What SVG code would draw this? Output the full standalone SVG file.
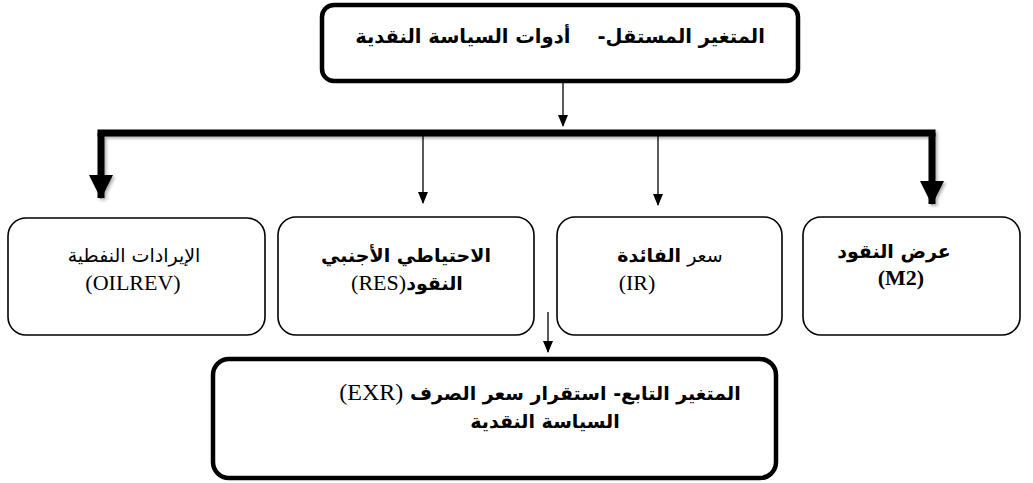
<svg xmlns="http://www.w3.org/2000/svg" width="1033" height="483" viewBox="0 0 1033 483">
<style>
.node-thick{fill:#fff;stroke:#000;stroke-width:4.5}
.node{fill:#fff;stroke:#000;stroke-width:1.6}
.ar{font-family:'DejaVu Sans','Liberation Sans',sans-serif;font-size:19px;fill:#000}
.arb{font-family:'DejaVu Sans','Liberation Sans',sans-serif;font-size:19px;font-weight:bold;fill:#000}
.lat{font-family:'Liberation Serif','Times New Roman',serif;font-size:22px;fill:#000}
.thin{stroke:#000;stroke-width:1.3;fill:none}
.thick{stroke:#000;stroke-width:7;fill:none}
</style>
<defs>
<filter id="sh" x="-20%" y="-20%" width="140%" height="140%"><feDropShadow dx="2" dy="2" stdDeviation="1.5" flood-color="#000" flood-opacity="0.3"/></filter>
<marker id="hThin" markerUnits="userSpaceOnUse" markerWidth="10" markerHeight="12" refX="5" refY="11" orient="0" viewBox="0 0 10 12"><path d="M0,0 L10,0 L5,12 z" fill="#000"/></marker>
<marker id="hThick" markerUnits="userSpaceOnUse" markerWidth="24" markerHeight="24" refX="12" refY="23" orient="0" viewBox="0 0 24 24"><path d="M0,0 L24,0 L12,24 z" fill="#000"/></marker>
</defs>
<g id="connectors">
<line class="thin" x1="563" y1="82" x2="563" y2="126" marker-end="url(#hThin)"/>
<g filter="url(#sh)">
<line class="thick" x1="97.5" y1="133" x2="935.5" y2="133"/>
<line class="thick" x1="101" y1="133" x2="101" y2="198" marker-end="url(#hThick)"/>
<line class="thick" x1="932" y1="133" x2="932" y2="204" marker-end="url(#hThick)"/>
</g>
<line class="thin" x1="423" y1="136" x2="423" y2="203" marker-end="url(#hThin)"/>
<line class="thin" x1="658" y1="136" x2="658" y2="205" marker-end="url(#hThin)"/>
<line class="thin" x1="548" y1="312" x2="548" y2="352" marker-end="url(#hThin)"/>
</g>
<g id="top">
<rect class="node-thick" x="322" y="5" width="476" height="76" rx="12"/>
<text class="arb" x="560" y="43" direction="rtl" text-anchor="middle" style="white-space:pre;font-size:19.5px">المتغير المستقل-    أدوات السياسة النقدية</text>
</g>
<g id="oilrev">
<rect class="node" x="8" y="218" width="257" height="117" rx="18"/>
<text class="ar" x="134" y="262" direction="rtl" text-anchor="middle">الإيرادات النفطية</text>
<text class="lat" x="133" y="290" text-anchor="middle">(OILREV)</text>
</g>
<g id="res">
<rect class="node" x="278" y="217" width="256" height="118" rx="18"/>
<text class="arb" x="406" y="262" direction="rtl" text-anchor="middle">الاحتياطي الأجنبي</text>
<text x="407" y="290" direction="rtl" text-anchor="middle"><tspan class="arb">النقود</tspan><tspan class="lat">(RES)</tspan></text>
</g>
<g id="ir">
<rect class="node" x="557" y="217" width="225" height="118" rx="18"/>
<text x="670" y="262" direction="rtl" text-anchor="middle"><tspan class="ar">سعر </tspan><tspan class="arb">الفائدة</tspan></text>
<text class="lat" x="637" y="290" text-anchor="middle">(IR)</text>
</g>
<g id="m2">
<rect class="node" x="803" y="217" width="217" height="118" rx="18"/>
<text class="arb" x="894" y="258" direction="rtl" text-anchor="middle">عرض النقود</text>
<text class="lat" x="901" y="285" text-anchor="middle" font-weight="bold">(M2)</text>
</g>
<g id="exr">
<rect class="node-thick" x="213" y="359" width="563" height="119" rx="16"/>
<text x="540" y="400" direction="rtl" text-anchor="middle"><tspan class="arb">المتغير التابع- استقرار سعر الصرف </tspan><tspan class="lat" style="font-size:24px">(EXR)</tspan></text>
<text class="arb" x="545" y="428" direction="rtl" text-anchor="middle">السياسة النقدية</text>
</g>
</svg>
